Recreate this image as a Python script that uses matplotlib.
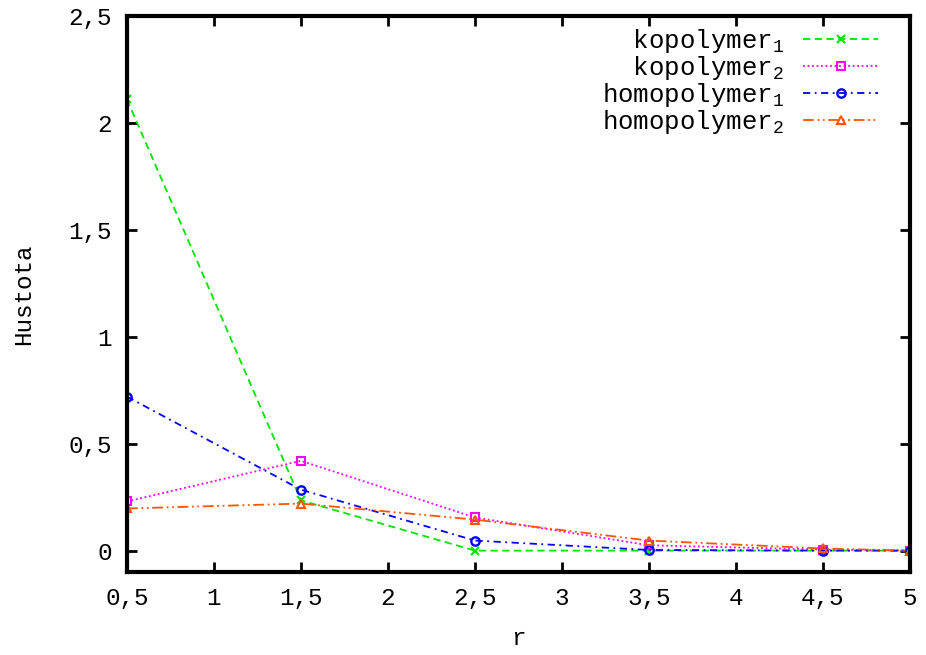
import numpy as np
import matplotlib
matplotlib.use("Agg")
import matplotlib.pyplot as plt
from matplotlib.ticker import FuncFormatter, MultipleLocator

plt.rcParams['font.family'] = ['Liberation Mono', 'DejaVu Sans Mono']
plt.rcParams['mathtext.fontset'] = 'custom'
plt.rcParams['mathtext.rm'] = 'Liberation Mono'
plt.rcParams['mathtext.it'] = 'Liberation Mono'

# data
r = [0.5, 1.5, 2.5, 3.5, 4.5, 5.0]
kopolymer1 = [2.11, 0.235, 0.0, 0.0, 0.0, 0.0]
kopolymer2 = [0.23, 0.42, 0.155, 0.025, 0.005, 0.0]
homopolymer1 = [0.72, 0.285, 0.047, 0.003, 0.0, 0.0]
homopolymer2 = [0.197, 0.22, 0.145, 0.047, 0.01, 0.0]

labels = ["  kopolymer$_1$", "  kopolymer$_2$", "homopolymer$_1$", "homopolymer$_2$"]

fig = plt.figure(figsize=(9.26, 6.55), dpi=100)
ax = fig.add_axes([0.1371, 0.1267, 0.8456, 0.8489])

ax.plot(r, kopolymer1, color='#00e600', ls=(0, (4, 2.5)), lw=1.3, marker='x',
        ms=6, mew=1.5, label=labels[0])
ax.plot(r, kopolymer2, color='#ff00ff', ls=(0, (1, 1.5)), lw=1.3, marker='s',
        ms=6, mew=1.5, mfc='none', label=labels[1])
ax.plot(r, homopolymer1, color='#0000ff', ls=(0, (4, 2.5, 1, 2.5)), lw=1.3, marker='o',
        ms=6, mew=1.7, mfc='none', label=labels[2])
ax.plot(r, homopolymer2, color='#ff5500', ls=(0, (6, 2, 1, 2, 1, 2)), lw=1.3, marker='^',
        ms=6, mew=1.5, mfc='none', label=labels[3])

ax.set_xlim(0.5, 5)
ax.set_ylim(-0.1, 2.5)
ax.xaxis.set_major_locator(MultipleLocator(0.5))
ax.yaxis.set_major_locator(MultipleLocator(0.5))
fmt = FuncFormatter(lambda v, p: f"{v:g}".replace('.', ','))
ax.xaxis.set_major_formatter(fmt)
ax.yaxis.set_major_formatter(fmt)

for s in ax.spines.values():
    s.set_linewidth(3)
ax.tick_params(direction='in', length=7, width=2, top=True, right=True,
               labelsize=17.5, pad=11)

ax.set_xlabel("r", fontsize=17.5, labelpad=12)
ax.set_ylabel("Hustota", fontsize=17.5, labelpad=24)

leg = ax.legend(loc='upper right', bbox_to_anchor=(0.972, 0.998), frameon=False,
                markerfirst=False, fontsize=18.5, handlelength=2.9, labelspacing=-0.04,
                handletextpad=0.75, borderaxespad=0)

fig.savefig("out.png", dpi=100)
